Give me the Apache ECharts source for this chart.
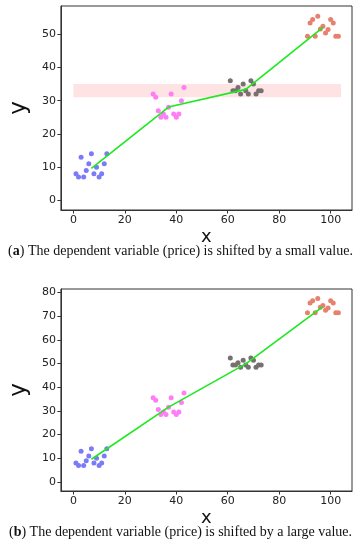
<!DOCTYPE html>
<html><head><meta charset="utf-8">
<script src="https://cdn.jsdelivr.net/npm/echarts@6/dist/echarts.min.js"></script>
<style>html,body{margin:0;padding:0;background:#fff}#c{width:361px;height:550px}</style>
</head><body><div id="c"></div>
<script>
// Data
var blueX = [1,2,3,4,5,6,7,8,9,10,11,12,13];
var blueY = [8,7,13,7,9,11,14,8,10,7,8,11,14];
var pinkX = [31,32,33,34,35,36,37,38,39,40,41,42,43];
var pinkYa = [32,31,27,25,26,25,28,32,26,25,26,30,34];
var pinkYb = [35.6,34.5,30.6,28.5,29.6,28.5,31.6,35.6,29.6,28.5,29.6,33.6,37.6];
var grayX = [61,62,63,64,65,66,67,68,69,70,71,72,73];
var grayYa = [36,33,33,34,32,35,33,32,36,35,32,33,33];
var grayYb = [52.4,49.4,49.4,50.4,48.5,51.4,49.4,48.5,52.4,51.4,48.5,49.4,49.4];
var redX = [91,92,93,94,95,96,97,98,99,100,101,102,103];
var redYa = [49.4,53.4,54.4,49.4,55.4,51.6,52.4,50.4,51.4,54.4,53.4,49.4,49.4];
var redYb = [71.5,75.6,76.5,71.5,77.5,73.8,74.5,72.5,73.5,76.5,75.6,71.5,71.5];
var lineX = [7,37,67,97];
var lineYa = [9.6,28.1,33.4,52.1];
var lineYb = [9.6,31.6,49.9,74.1];
var bandX = [0,104];
var bandY = [31,35];
var xTicks = [0,20,40,60,80,100];
var yTicksA = [0,10,20,30,40,50];
var yTicksB = [0,10,20,30,40,50,60,70,80];

function pairs(xs, ys){ return xs.map(function(x,i){return [x, ys[i]];}); }

var axisCommon = {
  axisLine:{show:true,onZero:false,lineStyle:{color:'#333',width:1}},
  axisTick:{show:true,length:3.5,lineStyle:{color:'#333'}},
  splitLine:{show:false},
  axisLabel:{color:'#222',fontSize:11,fontFamily:'DejaVu Sans'}
};
function xAx(idx){
  return Object.assign({}, axisCommon, {type:'value',gridIndex:idx,min:-4.85,max:108.3,
    name:'x',nameLocation:'middle',nameGap:18,
    nameTextStyle:{fontSize:18,color:'#111',fontFamily:'DejaVu Sans'},
    axisTick:Object.assign({},axisCommon.axisTick,{customValues:xTicks}),
    axisLabel:Object.assign({},axisCommon.axisLabel,{customValues:xTicks,margin:5})});
}
function yAx(idx,min,max,ticks){
  return Object.assign({}, axisCommon, {type:'value',gridIndex:idx,min:min,max:max,
    name:'y',nameLocation:'middle',nameGap:27,nameRotate:90,
    nameTextStyle:{fontSize:23,color:'#111',fontFamily:'DejaVu Sans'},
    axisTick:Object.assign({},axisCommon.axisTick,{customValues:ticks}),
    axisLabel:Object.assign({},axisCommon.axisLabel,{customValues:ticks,margin:5})});
}
function sc(name,xi,data,color){
  return {type:'scatter',xAxisIndex:xi,yAxisIndex:xi,data:data,symbolSize:5,
    itemStyle:{color:color,opacity:1},z:3,silent:true};
}
function ln(xi,data){
  return {type:'line',xAxisIndex:xi,yAxisIndex:xi,data:data,symbol:'none',
    lineStyle:{color:'#1ee81e',width:1.6},z:4,silent:true};
}

var chart = echarts.init(document.getElementById('c'),null,{renderer:'canvas'});
chart.setOption({
  animation:false,
  backgroundColor:'#fff',
  grid:[
    {left:41,top:6,width:311,height:204,show:true,borderColor:'#333',borderWidth:1,backgroundColor:'transparent'},
    {left:41,top:289,width:311,height:202,show:true,borderColor:'#333',borderWidth:1,backgroundColor:'transparent'}
  ],
  xAxis:[xAx(0),xAx(1)],
  yAxis:[yAx(0,-2.9,58.5,yTicksA),yAx(1,-3.8,81.5,yTicksB)],
  series:[
    {type:'scatter',xAxisIndex:0,yAxisIndex:0,data:[],z:1,silent:true,
      markArea:{silent:true,itemStyle:{color:'#fde3e3'},
        data:[[{xAxis:bandX[0],yAxis:bandY[0]},{xAxis:bandX[1],yAxis:bandY[1]}]]}},
    sc('blue',0,pairs(blueX,blueY),'#7b7bf7'),
    sc('pink',0,pairs(pinkX,pinkYa),'#ff7df5'),
    sc('gray',0,pairs(grayX,grayYa),'#777070'),
    sc('red',0,pairs(redX,redYa),'#e8806f'),
    ln(0,pairs(lineX,lineYa)),
    sc('blue',1,pairs(blueX,blueY),'#7b7bf7'),
    sc('pink',1,pairs(pinkX,pinkYb),'#ff7df5'),
    sc('gray',1,pairs(grayX,grayYb),'#777070'),
    sc('red',1,pairs(redX,redYb),'#e8806f'),
    ln(1,pairs(lineX,lineYb))
  ],
  graphic:[
    {type:'text',left:'center',top:244,style:{
      text:'(' + '{b|a}' + ') The dependent variable (price) is shifted by a small value.',
      fill:'#111',font:'14px "Liberation Serif"',
      rich:{b:{fontWeight:'bold',fontSize:14,fontFamily:'Liberation Serif',fill:'#111'}}}},
    {type:'text',left:'center',top:525,style:{
      text:'(' + '{b|b}' + ') The dependent variable (price) is shifted by a large value.',
      fill:'#111',font:'14px "Liberation Serif"',
      rich:{b:{fontWeight:'bold',fontSize:14,fontFamily:'Liberation Serif',fill:'#111'}}}}
  ]
});
</script></body></html>
